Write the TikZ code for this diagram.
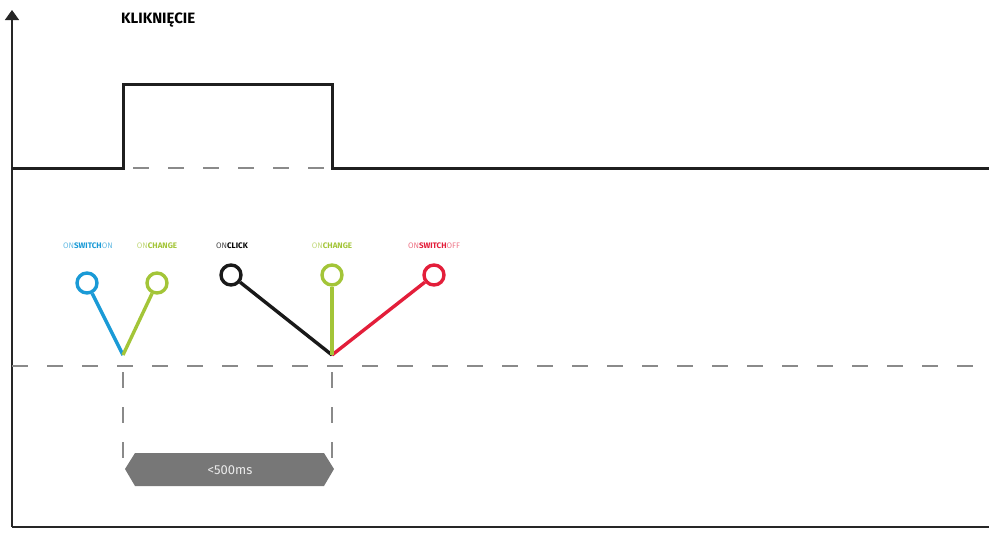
\documentclass[tikz,border=0pt]{standalone}
\usepackage{fontspec}
\setmainfont{Fira Sans}
\usetikzlibrary{arrows.meta}
\definecolor{cblue}{HTML}{1A9AD6}
\definecolor{cgreen}{HTML}{A3C538}
\definecolor{cred}{HTML}{E31E3A}
\definecolor{cgray}{HTML}{777777}
\definecolor{cdash}{HTML}{8A8A8A}
\tikzset{
  axis/.style={line width=1.5pt, draw=black!85},
  sig/.style={line width=3pt, draw=black!88, line join=miter},
  gdash/.style={line width=2pt, draw=cdash, dash pattern=on 16pt off 19pt},
  ring/.style={circle, draw=#1, line width=3.4pt, minimum size=20pt, inner sep=0pt, fill=white},
  stem/.style={line width=3.4pt, draw=#1},
  lab/.style={font=\fontsize{8}{9}\selectfont, inner sep=0pt, anchor=base},
}
\begin{document}
\begin{tikzpicture}[x=1pt,y=-1pt]
\useasboundingbox (0,0) rectangle (989,533);
% axes
\coordinate (o) at (12,527);
\coordinate (top) at (12,10);
\coordinate (xend) at (989,527);
\draw[axis,-{Triangle[width=14pt,length=10pt]}] (o) -- (top);
\draw[axis] (o) -- (xend);
\node[font=\bfseries\fontsize{15}{17}\selectfont, anchor=base west, inner sep=0pt] (title) at (121,23) {KLIKNIĘCIE};
% signal
\coordinate (s0) at (12,168);
\coordinate (s1) at (123,168);
\coordinate (s2) at (123,84);
\coordinate (s3) at (332,84);
\coordinate (s4) at (332,168);
\coordinate (s5) at (989,168);
\draw[gdash] ([xshift=10pt]s1) -- (s4);
\draw[sig] (s0) -- (s1) -- (s2) -- (s3) -- (s4) -- (s5);
% dashed reference line
\coordinate (d0) at (12,366);
\coordinate (d1) at (989,366);
\draw[gdash, dash phase=0pt] (d0) -- (d1);
% event bottoms
\coordinate (b1) at (123,355);
\coordinate (b2) at (332,355);
% rings
\node[ring=cblue] (r1) at (87,283) {};
\node[ring=cgreen] (r2) at (157,283) {};
\node[ring=black!90] (r3) at (231,275) {};
\node[ring=cgreen] (r4) at (332,275) {};
\node[ring=cred] (r5) at (434,275) {};
\draw[stem=cblue] (r1) -- (b1);
\draw[stem=cgreen] (r2) -- (b1);
\draw[stem=black!90] (r3) -- (b2);
\draw[stem=cred] (r5) -- (b2);
\draw[stem=cgreen] (r4) -- (b2);
% labels
\node[lab] (l1) at (88,248) {\textcolor{cblue!65}{ON}\textcolor{cblue}{\bfseries SWITCH}\textcolor{cblue!65}{ON}};
\node[lab] (l2) at (157,248) {\textcolor{cgreen!65}{ON}\textcolor{cgreen}{\bfseries CHANGE}};
\node[lab] (l3) at (232,248) {\textcolor{black!70}{ON}\textcolor{black}{\bfseries CLICK}};
\node[lab] (l4) at (332,248) {\textcolor{cgreen!65}{ON}\textcolor{cgreen}{\bfseries CHANGE}};
\node[lab] (l5) at (434,248) {\textcolor{cred!60}{ON}\textcolor{cred}{\bfseries SWITCH}\textcolor{cred!60}{OFF}};
% interval
\coordinate (v1) at (123,470);
\coordinate (v2) at (332,470);
\draw[gdash, dash phase=-6pt] (b1 |- d0) -- (v1);
\draw[gdash, dash phase=-6pt] (b2 |- d0) -- (v2);
\fill[cgray] (125,469) -- (135,453) -- (324,453) -- (334,469) -- (324,486) -- (135,486) -- cycle;
\node[font=\fontsize{13}{15}\selectfont, text=white!92!black, inner sep=0pt] (ms) at (230,470) {<500ms};
\end{tikzpicture}
\end{document}
